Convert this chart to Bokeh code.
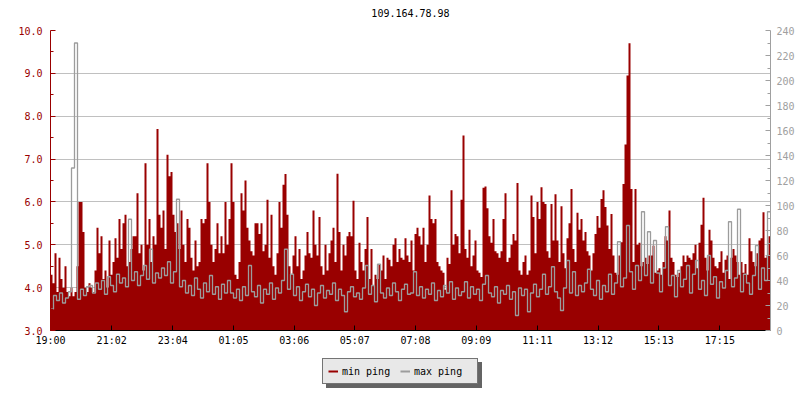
from bokeh.plotting import figure
from bokeh.layouts import column
from bokeh.models import (Range1d, LinearAxis, FixedTicker, Legend, LegendItem,
                          PrintfTickFormatter, Label)
from bokeh.embed import file_html
from bokeh.resources import INLINE

title_text = "109.164.78.98"
series_names = ["min ping", "max ping"]

# x axis: minutes after 19:00, labels as printed
time_span = 1436
tick_minutes = [0, 122, 244, 365, 486, 607, 728, 849, 971, 1092, 1213, 1335]
tick_labels = ["19:00", "21:02", "23:04", "01:05", "03:06", "05:07",
               "07:08", "09:09", "11:11", "13:12", "15:13", "17:15"]

left_ticks = [3, 4, 5, 6, 7, 8, 9, 10]
left_minor = [3.5, 4.5, 5.5, 6.5, 7.5, 8.5, 9.5]
right_ticks = [0, 20, 40, 60, 80, 100, 120, 140, 160, 180, 200, 220, 240]
right_minor = [10, 30, 50, 70, 90, 110, 130, 150, 170, 190, 210, 230]

# min ping (left axis), 360 samples
min_ping = [
    4.3, 4.1, 4.8, 3.9, 4.7, 4.2, 4.0, 4.5, 3.9, 3.8,
    4.0, 3.8, 3.9, 4.5, 6.0, 6.0, 5.3, 4.0, 3.9, 4.1,
    4.0, 3.9, 4.4, 5.4, 4.8, 5.2, 4.2, 4.4, 4.0, 5.1,
    4.3, 4.6, 5.15, 4.7, 5.6, 4.9, 5.5, 5.7, 4.5, 4.6,
    4.9, 5.2, 5.2, 6.2, 4.8, 5.0, 4.4, 6.9, 5.0, 5.6,
    4.6, 5.2, 5.0, 7.7, 5.7, 5.4, 5.8, 4.9, 7.1, 6.6,
    6.7, 5.7, 5.3, 5.5, 4.9, 5.8, 5.0, 4.6, 5.6, 5.4,
    4.7, 4.4, 5.1, 4.5, 4.6, 5.6, 5.5, 5.6, 6.9, 6.0,
    5.0, 4.6, 4.9, 5.5, 4.8, 5.2, 4.8, 6.0, 5.0, 5.6,
    6.9, 6.0, 4.3, 4.2, 4.6, 6.2, 5.8, 6.5, 5.4, 5.1,
    4.85, 4.75, 5.5, 5.5, 5.25, 5.5, 4.85, 5.0, 6.05, 4.7,
    5.7, 4.5, 4.3, 4.8, 6.0, 5.4, 6.4, 6.65, 5.7, 4.5,
    4.3, 4.75, 5.2, 4.5, 4.9, 4.2, 4.4, 4.75, 5.3, 4.8,
    4.7, 5.8, 5.0, 4.75, 5.65, 4.5, 4.3, 5.0, 4.4, 4.8,
    5.1, 5.4, 4.6, 6.66, 5.3, 4.4, 5.0, 4.75, 5.2, 5.3,
    5.2, 6.03, 4.4, 4.2, 5.05, 4.6, 4.4, 4.9, 5.65, 4.2,
    4.9, 4.05, 4.3, 4.2, 4.55, 4.4, 4.75, 4.2, 4.7, 4.65,
    4.5, 5.0, 5.15, 4.6, 4.9, 4.7, 4.65, 5.15, 4.75, 4.6,
    5.1, 4.4, 5.25, 5.4, 5.2, 5.0, 5.4, 4.6, 5.0, 6.15,
    5.6, 5.5, 5.6, 4.6, 4.5, 4.4, 4.35, 3.95, 4.7, 4.55,
    6.27, 5.0, 5.25, 5.2, 4.8, 6.05, 7.55, 4.9, 4.7, 5.35,
    4.5, 4.75, 5.1, 4.4, 4.35, 4.25, 6.33, 6.36, 5.85, 5.2,
    5.05, 5.6, 4.85, 4.8, 4.7, 4.85, 5.6, 6.2, 4.6, 4.7,
    5.0, 5.25, 5.1, 6.44, 4.4, 4.3, 4.6, 4.75, 4.3, 4.4,
    6.15, 5.65, 4.8, 6.0, 5.6, 6.34, 6.0, 5.95, 4.85, 4.7,
    5.95, 5.1, 6.18, 5.1, 4.6, 5.9, 4.8, 4.45, 5.15, 5.5,
    6.3, 4.9, 4.6, 5.75, 5.35, 5.6, 5.1, 5.3, 4.85, 4.75,
    4.4, 4.8, 5.25, 5.67, 5.4, 6.07, 6.27, 5.88, 5.45, 4.9,
    5.72, 4.75, 4.35, 4.3, 4.75, 5.06, 6.42, 7.34, 8.95, 9.7,
    6.3, 4.6, 6.3, 5.0, 5.05, 4.5, 4.6, 4.7, 4.55, 4.75,
    4.75, 4.98, 4.35, 4.4, 4.45, 4.3, 4.6, 5.2, 5.1, 5.8,
    4.7, 4.6, 4.3, 4.25, 4.35, 4.5, 4.75, 4.6, 4.75, 4.7,
    4.65, 4.8, 5.0, 4.45, 5.05, 5.47, 6.1, 4.7, 4.4, 5.35,
    5.1, 4.7, 4.5, 4.45, 4.6, 4.85, 4.35, 4.65, 4.75, 4.2,
    4.7, 4.9, 4.75, 4.6, 4.3, 4.6, 4.35, 4.55, 4.3, 5.15,
    4.85, 4.6, 4.5, 4.8, 5.1, 5.15, 5.76, 4.7, 4.75, 5.2,
]

# max ping (right axis, ms), 240 samples
max_ping = [
    17, 28, 24, 30, 22, 26, 31, 130, 230, 25,
    33, 28, 35, 36, 30, 38, 33, 40, 29, 43,
    36, 31, 45, 38, 42, 35, 89, 40, 47, 36,
    44, 52, 41, 65, 38, 46, 42, 50, 44, 55,
    38, 47, 105, 35, 40, 30, 36, 28, 42, 33,
    26, 38, 31, 44, 29, 35, 25, 37, 30, 40,
    30, 26, 33, 24, 35, 28, 52, 31, 27, 36,
    22, 33, 29, 38, 25, 34, 30, 40, 65, 33,
    45, 28, 35, 24, 31, 37, 27, 33, 20, 30,
    36, 26, 32, 29, 38, 24, 33, 28, 15, 31,
    35, 27, 30, 25, 34, 52, 29, 36, 23, 53,
    30, 26, 34, 28, 38, 31, 24, 33, 37, 29,
    30, 47, 28, 35, 26, 33, 29, 38, 24, 32,
    27, 36, 30, 39, 25, 34, 28, 31, 39, 26,
    35, 29, 33, 24, 37, 44, 30, 27, 35, 22,
    32, 29, 36, 25, 31, 12, 34, 28, 33, 15,
    30, 37, 27, 33, 45, 29, 35, 51, 31, 26,
    16, 34, 56, 30, 47, 28, 36, 31, 38, 49,
    33, 28, 40, 25, 36, 31, 45, 29, 38, 71,
    35, 42, 84, 47, 33, 52, 40, 95, 44, 79,
    38, 72, 46, 31, 50, 83, 36, 44, 27, 48,
    35, 41, 52, 30, 45, 56, 33, 40, 28, 60,
    37, 43, 26, 39, 34, 48, 87, 35, 42, 97,
    31, 45, 38, 29, 44, 68, 33, 50, 40, 95,
]

RED = "#990000"
GRAY = "#9c9c9c"
AXGRAY = "#a0a0a0"
FONT = "DejaVu Sans Mono"
SHADOW = "#646464"


def strip(h):
    f = figure(frame_width=720, frame_height=h,
               x_range=Range1d(0, 1), y_range=Range1d(0, 1),
               output_backend="svg", toolbar_location=None,
               x_axis_location=None, y_axis_location=None,
               min_border_left=50, min_border_right=28,
               min_border_top=0, min_border_bottom=0,
               background_fill_color="white", border_fill_color="white")
    f.outline_line_color = None
    f.grid.visible = False
    return f


# title strip
t = strip(24)
t.add_layout(Label(x=0.5, y=0.46, text=title_text, text_align="center",
                   text_baseline="middle", text_font=FONT,
                   text_font_size="10px", text_color="black"))

# main chart
p = figure(frame_width=720, frame_height=300,
           x_range=Range1d(0, time_span), y_range=Range1d(3, 10),
           output_backend="svg", toolbar_location=None,
           min_border_left=50, min_border_top=6, min_border_bottom=28,
           min_border_right=22, background_fill_color="white",
           border_fill_color="white")
p.outline_line_color = None
p.extra_y_ranges = {"ms": Range1d(0, 240)}

n_red = len(min_ping)
red_x = [i * time_span / n_red for i in range(n_red + 1)]
red_y = min_ping + [min_ping[-1]]
p.varea_step(x=red_x, y1=3.0, y2=red_y, step_mode="after", fill_color=RED)

n_gray = len(max_ping)
gray_x = [i * time_span / n_gray for i in range(n_gray + 1)]
gray_y = max_ping + [max_ping[-1]]
p.step(x=gray_x, y=gray_y, mode="after", y_range_name="ms",
       line_color=GRAY, line_width=1.3)

# left axis
ya = p.yaxis[0]
ya.ticker = FixedTicker(ticks=left_ticks, minor_ticks=left_minor)
ya.formatter = PrintfTickFormatter(format="%.1f")
ya.axis_line_color = RED
ya.major_tick_line_color = RED
ya.minor_tick_line_color = RED
ya.major_label_text_color = RED
ya.major_tick_in = 5
ya.major_tick_out = 0
ya.minor_tick_in = 3
ya.minor_tick_out = 0
ya.major_label_text_font = FONT
ya.major_label_text_font_size = "10px"
ya.major_label_standoff = 8

# right axis
ra = LinearAxis(y_range_name="ms",
                ticker=FixedTicker(ticks=right_ticks, minor_ticks=right_minor))
ra.axis_line_color = AXGRAY
ra.major_tick_line_color = AXGRAY
ra.minor_tick_line_color = AXGRAY
ra.major_label_text_color = AXGRAY
ra.major_tick_in = 5
ra.major_tick_out = 0
ra.minor_tick_in = 3
ra.minor_tick_out = 0
ra.major_label_text_font = FONT
ra.major_label_text_font_size = "10px"
ra.major_label_standoff = 6
p.add_layout(ra, "right")

# bottom axis
xa = p.xaxis[0]
xa.ticker = FixedTicker(ticks=tick_minutes, minor_ticks=[])
xa.major_label_overrides = {t_: l for t_, l in zip(tick_minutes, tick_labels)}
xa.axis_line_color = "black"
xa.major_tick_line_color = "black"
xa.major_tick_in = 5
xa.major_tick_out = 0
xa.major_label_text_font = FONT
xa.major_label_text_font_size = "10px"
xa.major_label_text_color = "black"
xa.major_label_standoff = 4

p.xgrid.visible = False
p.ygrid.grid_line_color = "#c0c0c0"
p.ygrid.grid_line_width = 1

# legend strip below the chart (with drop shadow)
q = figure(width=800, height=34, x_range=Range1d(0, 1), y_range=Range1d(0, 1),
           output_backend="svg", toolbar_location=None,
           x_axis_location=None, y_axis_location=None,
           min_border=0, min_border_left=0, min_border_right=0,
           min_border_top=0, min_border_bottom=0,
           background_fill_color="white", border_fill_color="white")
q.outline_line_color = None
q.grid.visible = False

off_x = [-5, -4]
off_y = [-5, -5]
leg_min = q.line(x=off_x, y=off_y, line_color=RED, line_width=2)
leg_max = q.line(x=off_x, y=off_y, line_color=GRAY, line_width=2)
sh_a = q.line(x=off_x, y=off_y, line_color=SHADOW, line_width=2)
sh_b = q.line(x=off_x, y=off_y, line_color=SHADOW, line_width=2)

common = dict(orientation="horizontal", padding=5, spacing=0, margin=0,
              glyph_width=10, glyph_height=14, label_standoff=4,
              label_width=58, label_height=14,
              label_text_font=FONT, label_text_font_size="10px")

shadow = Legend(items=[LegendItem(label=" ", renderers=[sh_a]),
                       LegendItem(label=" ", renderers=[sh_b])],
                location=(276, 4), background_fill_color=SHADOW,
                background_fill_alpha=1.0, border_line_color=SHADOW,
                label_text_color=SHADOW, **common)
legend = Legend(items=[LegendItem(label=series_names[0], renderers=[leg_min]),
                       LegendItem(label=series_names[1], renderers=[leg_max])],
                location=(272, 8), background_fill_color="#e8e8e8",
                background_fill_alpha=1.0, border_line_color="black",
                border_line_width=1, label_text_color="black", **common)
q.add_layout(shadow)
q.add_layout(legend)

layout = column(t, p, q, spacing=0)
open("out.html", "w").write(file_html(layout, INLINE))
